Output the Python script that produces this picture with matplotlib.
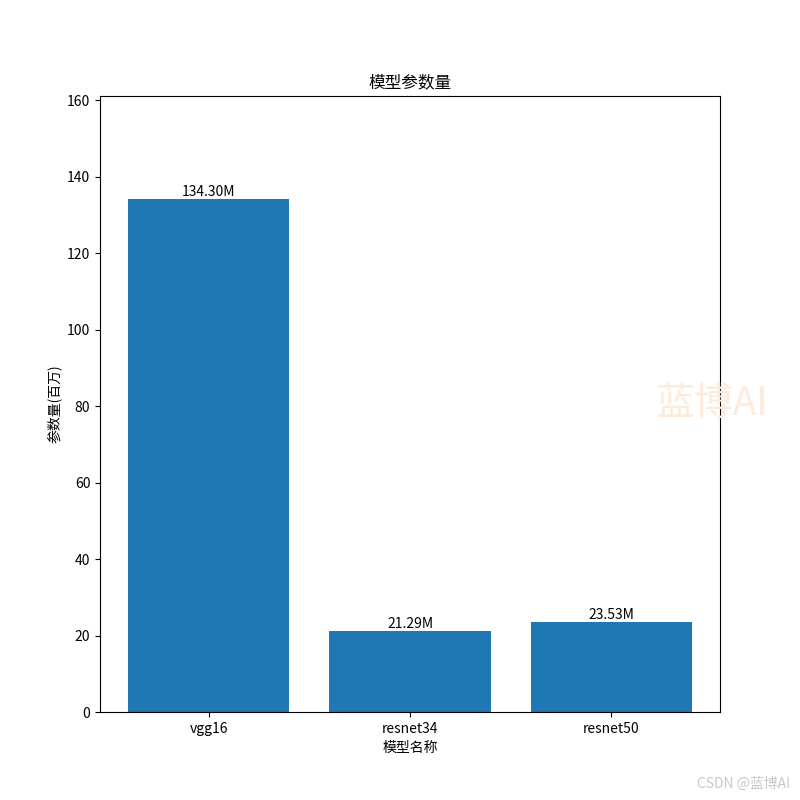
import numpy as np
import matplotlib
matplotlib.use('Agg')
import matplotlib.pyplot as plt

plt.rcParams['font.family'] = ['Noto Sans CJK SC', 'DejaVu Sans']
plt.rcParams['axes.unicode_minus'] = False

# model names and parameter counts (millions)
models = ['vgg16', 'resnet34', 'resnet50']
params_m = [134.30, 21.29, 23.53]

fig, ax = plt.subplots(figsize=(8, 8), dpi=100)
bars = ax.bar(models, params_m, color='#1f77b4')

for b, v in zip(bars, params_m):
    ax.text(b.get_x() + b.get_width() / 2, b.get_height(), f'{v:.2f}M',
            ha='center', va='bottom', fontsize=10)

ax.set_ylim(0, max(params_m) * 1.2)
ax.set_title('模型参数量')
ax.set_xlabel('模型名称')
ax.set_ylabel('参数量(百万)')

# watermarks
fig.text(0.889, 0.495, '蓝博AI', fontsize=28, color='#fdebdc', ha='center', va='center')
fig.text(0.988, 0.02, 'CSDN @蓝博AI', fontsize=10, color='#c8c8c8', ha='right', va='center')

fig.savefig('out.png', dpi=100)
